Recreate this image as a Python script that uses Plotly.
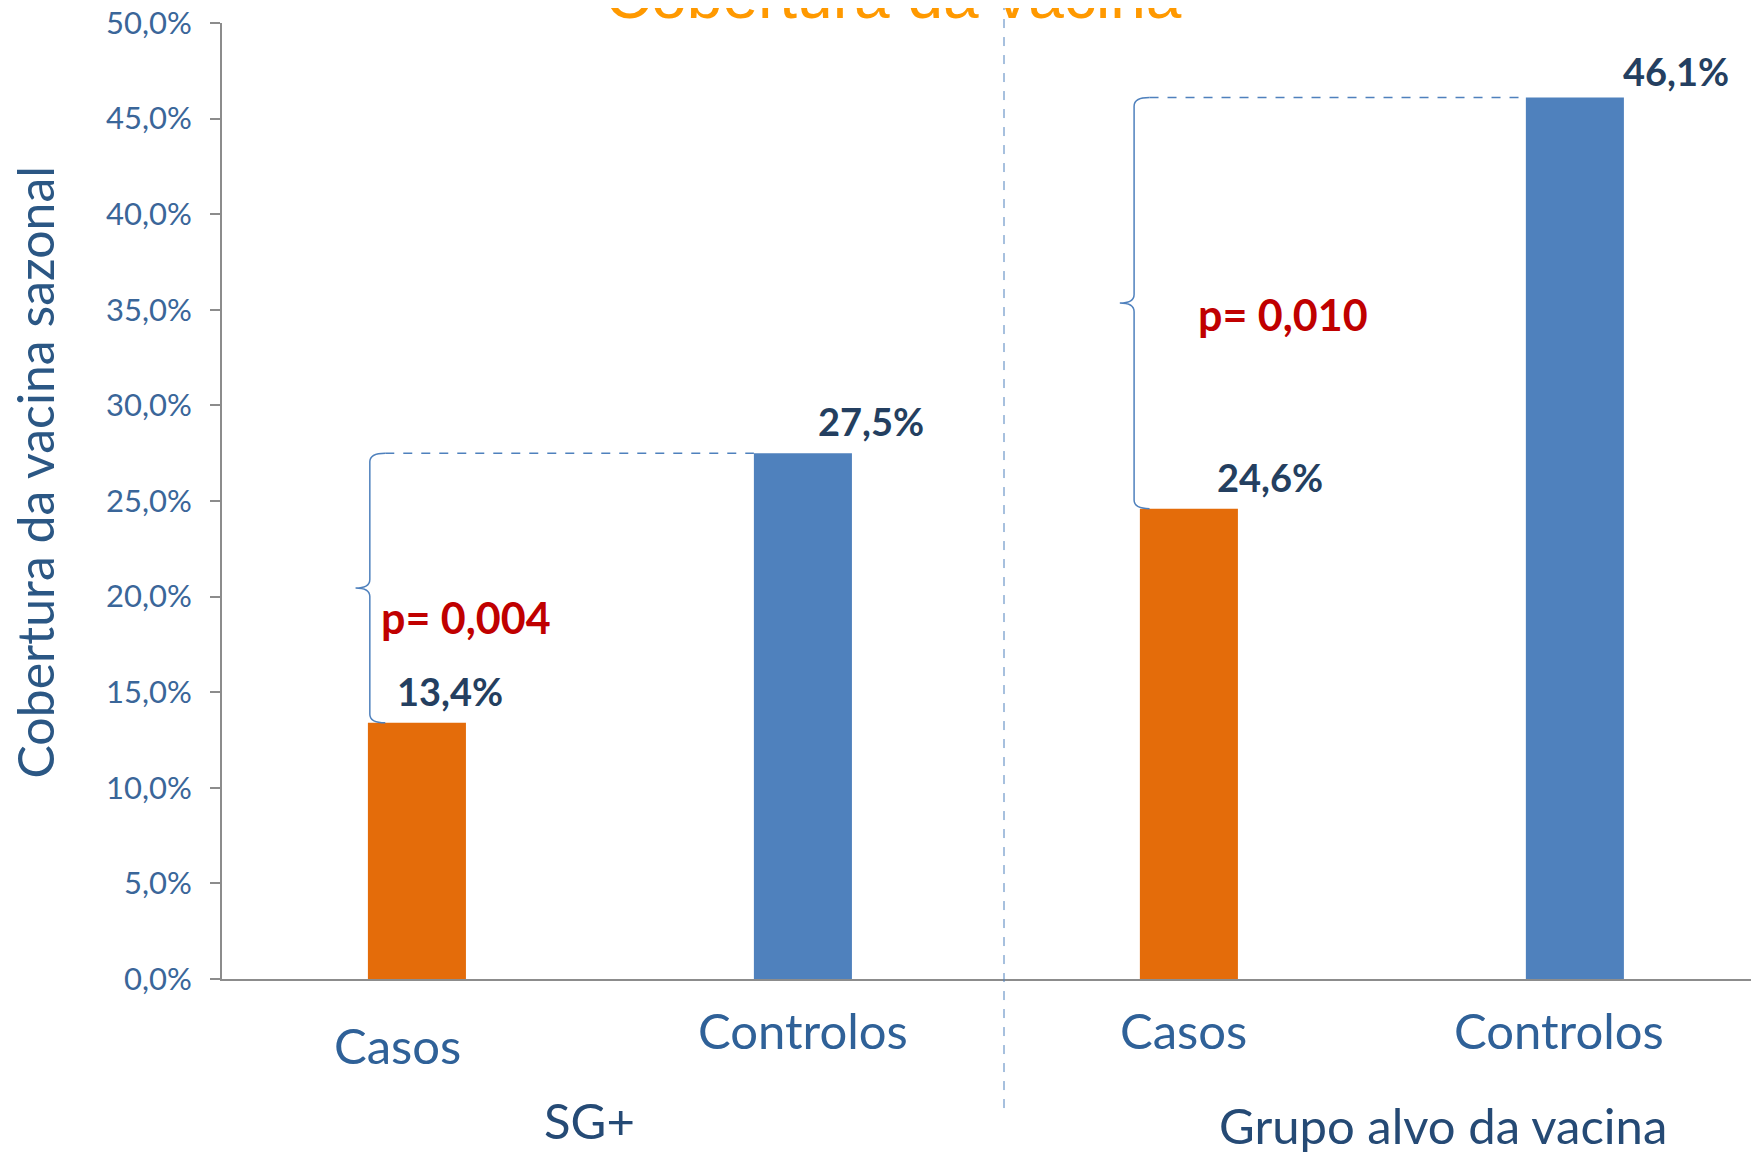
import plotly.graph_objects as go

# ---------------- data ----------------
categories = ["Casos", "Controlos", "Casos", "Controlos"]
groups = ["SG+", "Grupo alvo da vacina"]
coverage = [13.4, 27.5, 24.6, 46.1]
p_values = ["p= 0,004", "p= 0,010"]
y_ticks = [0, 5, 10, 15, 20, 25, 30, 35, 40, 45, 50]
y_tick_labels = ["0,0%", "5,0%", "10,0%", "15,0%", "20,0%", "25,0%",
                 "30,0%", "35,0%", "40,0%", "45,0%", "50,0%"]
chart_title = "Cobertura da vacina"
y_title = "Cobertura da vacina sazonal"

# ---------------- style ----------------
OFF = 8  # default page body margin
W, H = 1759 - OFF, 1153 - OFF
ML, MT, MB = 222 - OFF, 23 - OFF, 174
FONT = "Lato"
ORANGE = "#E46C0A"
BLUE = "#4F81BD"
bar_colors = [ORANGE, BLUE, ORANGE, BLUE]
AXIS = "#8C8C8C"
TICK_COLOR = "#3A6699"
CAT_COLOR = "#2F6198"
GROUP_COLOR = "#254A75"
LABEL_COLOR = "#243F60"
P_COLOR = "#C00000"

xpos = list(range(len(categories)))
fmt = lambda v: f"{v:.1f}%".replace(".", ",")

fig = go.Figure(go.Bar(
    x=xpos, y=coverage, width=0.254,
    marker=dict(color=bar_colors, line=dict(width=0)),
    hoverinfo="skip", showlegend=False,
))

ann = []
# category labels
cat_dx = [-0.05, 0.0, -0.013, -0.04]
cat_dy = [-66, -51, -51, -51]
for i, c in enumerate(categories):
    ann.append(dict(x=xpos[i] + cat_dx[i], y=0, xref="x", yref="y", text=c,
                    showarrow=False, yshift=cat_dy[i], yanchor="middle",
                    font=dict(family=FONT, size=49, color=CAT_COLOR)))
# group labels
grp_x = [0.448, 2.658]
grp_dy = [-141, -146]
for g, gx, gdy in zip(groups, grp_x, grp_dy):
    ann.append(dict(x=gx, y=0, xref="x", yref="y", text=g, showarrow=False,
                    yshift=gdy, yanchor="middle",
                    font=dict(family=FONT, size=49, color=GROUP_COLOR)))
# value labels
lab_dx = [0.085, 0.176, 0.21, 0.262]
lab_dy = [32, 32, 32, 27]
for i, v in enumerate(coverage):
    ann.append(dict(x=xpos[i] + lab_dx[i], y=v, xref="x", yref="y",
                    text=f"<b>{fmt(v)}</b>", showarrow=False,
                    yshift=lab_dy[i], yanchor="middle",
                    font=dict(family=FONT, size=38, color=LABEL_COLOR)))

# braces + dashed connectors + p-values
shapes = []
brace_dx = [-0.122, -0.142]
p_dx = [0.127, 0.244]
p_dy = [-29, -11]
for k in range(2):
    ci, ki = 2 * k, 2 * k + 1
    top, bot = coverage[ki], coverage[ci]
    mid = (top + bot) / 2
    xb = xpos[ci] + brace_dx[k]
    xt = xb - 0.037
    xe = xb + 0.04
    r = 0.45
    path = (f"M {xe},{top} Q {xb},{top} {xb},{top - r} L {xb},{mid + r} "
            f"Q {xb},{mid} {xt},{mid} Q {xb},{mid} {xb},{mid - r} "
            f"L {xb},{bot + r} Q {xb},{bot} {xe},{bot}")
    shapes.append(dict(type="path", path=path, xref="x", yref="y",
                       line=dict(color=BLUE, width=1.5)))
    shapes.append(dict(type="line", xref="x", yref="y", x0=xe, x1=xpos[ki] - 0.127,
                       y0=top, y1=top, line=dict(color=BLUE, width=1.5, dash="dash")))
    ann.append(dict(x=xpos[ci] + p_dx[k], y=mid, xref="x", yref="y",
                    text=f"<b>{p_values[k]}</b>", showarrow=False,
                    yshift=p_dy[k], yanchor="middle",
                    font=dict(family=FONT, size=43, color=P_COLOR)))

# group divider
shapes.append(dict(type="line", xref="x", yref="paper", x0=1.521, x1=1.521,
                   y0=-0.135, y1=1.05, line=dict(color=BLUE, width=1, dash="dash")))

# title (partly cut at the top) and y title
ann.append(dict(x=0.4366, y=1.028, xref="paper", yref="paper", text=chart_title,
                showarrow=False, xanchor="center", yanchor="middle",
                font=dict(family="Liberation Sans", size=64, color="#FF9900")))
ann.append(dict(x=-0.1215, y=0.53, xref="paper", yref="paper", text=y_title,
                showarrow=False, textangle=-90, xanchor="center", yanchor="middle",
                font=dict(family=FONT, size=50, color="#2B5784")))

fig.update_layout(
    width=W, height=H,
    margin=dict(l=ML, r=0, t=MT, b=MB, pad=0, autoexpand=False),
    plot_bgcolor="white", paper_bgcolor="white",
    annotations=ann, shapes=shapes,
    xaxis=dict(range=[-0.505, 3.477], showticklabels=False, ticks="",
               showgrid=False, zeroline=False, showline=True, automargin=False,
               linecolor=AXIS, linewidth=2, fixedrange=True),
    yaxis=dict(range=[0, 50], tickvals=y_ticks, ticktext=y_tick_labels,
               ticks="outside", ticklen=10, tickwidth=2, tickcolor=AXIS,
               ticklabeloverflow="allow", ticklabelstandoff=12, automargin=False,
               showgrid=False, zeroline=False, showline=True,
               linecolor=AXIS, linewidth=2,
               tickfont=dict(family=FONT, size=31, color=TICK_COLOR)),
    font=dict(family=FONT),
)

fig.write_html("out.html")
